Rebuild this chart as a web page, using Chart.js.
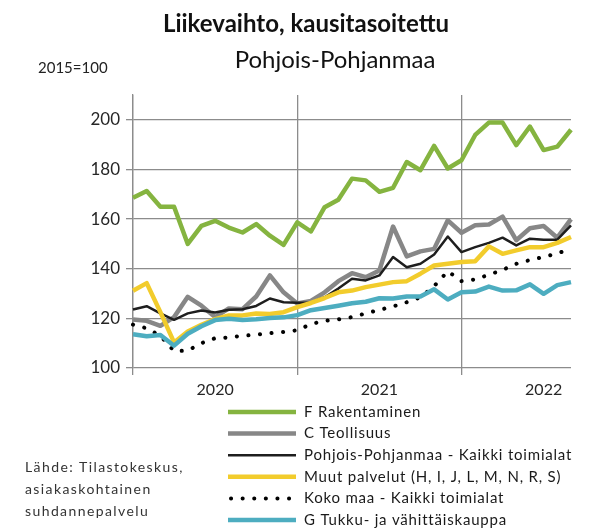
<!DOCTYPE html>
<html>
<head>
<meta charset="utf-8">
<script src="https://cdn.jsdelivr.net/npm/chart.js@4"></script>
<style>
  html, body { margin: 0; padding: 0; background: #fff; }
  #wrap { width: 616px; height: 528px; }
</style>
</head>
<body>
<div id="wrap"><canvas id="lineChart" width="616" height="528"></canvas></div>
<script>
// months Jan 2020 - Sep 2022
const months = [
  '2020-01','2020-02','2020-03','2020-04','2020-05','2020-06','2020-07','2020-08','2020-09','2020-10','2020-11','2020-12',
  '2021-01','2021-02','2021-03','2021-04','2021-05','2021-06','2021-07','2021-08','2021-09','2021-10','2021-11','2021-12',
  '2022-01','2022-02','2022-03','2022-04','2022-05','2022-06','2022-07','2022-08','2022-09'
];
const yearLabels = ['2020', '2021', '2022'];
const yTicks = [100, 120, 140, 160, 180, 200];

const rakentaminen = [168.6, 171.3, 165, 165, 150, 157.3, 159.3, 156.6, 154.6, 158, 153.3, 149.6, 158.7, 155, 164.8, 167.8, 176.3, 175.6, 171, 172.6, 183, 179.7, 189.5, 180.4, 183.7, 193.9, 198.9, 198.9, 189.8, 197.3, 187.8, 189.2, 196];
const teollisuus = [119.5, 119, 117, 120.5, 128.7, 125.1, 120.5, 124, 123.7, 128.8, 137.3, 130.5, 126, 127, 130.5, 135, 138.2, 136.6, 139.3, 157, 145, 147, 148, 159.5, 154.5, 157.5, 157.8, 161, 151.5, 156.3, 157.2, 152.5, 160];
const ppKaikki = [123.6, 124.9, 122, 119.4, 122, 123.2, 122.4, 123.5, 123.7, 125, 128, 126.5, 126.3, 126.3, 128.5, 132, 136, 135.3, 137.3, 144.7, 140.6, 142, 145.7, 153, 146.7, 148.7, 150.4, 152.5, 149.4, 152.1, 151.7, 151.7, 157.5];
const muutPalvelut = [131.1, 134.2, 122.5, 110.3, 114.7, 117.4, 119.7, 121.2, 121.2, 122, 121.8, 122.5, 124.5, 126.2, 128.2, 130.5, 131.2, 132.6, 133.6, 134.6, 135, 138, 141.3, 142, 142.7, 143, 149, 146, 147.4, 148.7, 148.7, 150.4, 152.8];
const kokoMaa = [117.5, 116, 113, 106.8, 107, 110, 112, 112.3, 113, 113.4, 114, 114.5, 115.2, 117.7, 119, 119.6, 120.5, 122, 123.4, 124.8, 126.5, 128.5, 133, 139, 135, 135.7, 137.6, 139.5, 142, 143.5, 144.7, 146.2, 148];
const kauppa = [113.6, 112.8, 113.3, 109, 113.8, 116.8, 119.3, 119.8, 119.3, 119.6, 120.1, 120.4, 121.3, 123.3, 124.2, 125.1, 126.1, 126.7, 128.1, 128, 128.8, 128.8, 131.7, 127.6, 130.5, 130.8, 132.8, 131.2, 131.3, 133.7, 129.9, 133.4, 134.6];

const FONT = "Lato, 'Open Sans', sans-serif";
const GRID = '#8c8c8c';

// titles, unit note, source text and the legend are drawn by hand
const extras = {
  id: 'extras',
  afterDraw(chart) {
    const c = chart.ctx;
    c.save();
    c.fillStyle = '#111';
    c.textAlign = 'center';
    c.textBaseline = 'middle';
    c.font = 'bold 24px ' + FONT;
    c.fillText('Liikevaihto, kausitasoitettu', 306, 24);
    c.font = '24px ' + FONT;
    c.fillText('Pohjois-Pohjanmaa', 335, 60);
    c.textAlign = 'left';
    c.font = '15px ' + FONT;
    c.fillStyle = '#222';
    c.fillText('2015=100', 38, 68);

    c.font = '14px ' + FONT;
    c.fillStyle = '#333';
    c.letterSpacing = '1.4px';
    ['Lähde: Tilastokeskus,', 'asiakaskohtainen', 'suhdannepalvelu'].forEach((t, i) => {
      c.fillText(t, 25, 467 + i * 22);
    });

    c.font = '15px ' + FONT;
    c.letterSpacing = '0.8px';
    chart.data.datasets.forEach((ds, i) => {
      const y = 412 + i * 21.6;
      c.save();
      c.strokeStyle = ds.borderColor;
      c.lineWidth = ds.borderWidth;
      c.lineCap = ds.borderCapStyle || 'butt';
      c.setLineDash(ds.borderDash || []);
      c.beginPath();
      c.moveTo(ds.borderDash ? 231 : 228, y);
      c.lineTo(296, y);
      c.stroke();
      c.restore();
      c.fillStyle = '#1a1a1a';
      c.fillText(ds.label, 304, y);
    });
    c.restore();
  }
};

const ctx = document.getElementById('lineChart').getContext('2d');

const lineChart = new Chart(ctx, {
  type: 'line',
  data: {
    labels: months,
    datasets: [
      { label: 'F Rakentaminen', data: rakentaminen, borderColor: '#85b440', borderWidth: 4.5, order: 6 },
      { label: 'C Teollisuus', data: teollisuus, borderColor: '#878787', borderWidth: 4.5, order: 5 },
      { label: 'Pohjois-Pohjanmaa - Kaikki toimialat', data: ppKaikki, borderColor: '#1e1e1e', borderWidth: 2.5, order: 4 },
      { label: 'Muut palvelut (H, I, J, L, M, N, R, S)', data: muutPalvelut, borderColor: '#f2cc2c', borderWidth: 4.5, order: 3 },
      { label: 'Koko maa - Kaikki toimialat', data: kokoMaa, borderColor: '#000000', borderWidth: 4, borderDash: [0.1, 11.5], borderCapStyle: 'round', order: 2 },
      { label: 'G Tukku- ja vähittäiskauppa', data: kauppa, borderColor: '#4dadc0', borderWidth: 4.5, order: 1 }
    ]
  },
  options: {
    responsive: false,
    devicePixelRatio: 1,
    animation: false,
    layout: { padding: { top: 95, right: 45, left: 0, bottom: 0 } },
    elements: {
      line: { tension: 0, borderJoinStyle: 'round', fill: false },
      point: { radius: 0, hoverRadius: 0 }
    },
    plugins: {
      legend: { display: false },
      tooltip: { enabled: false }
    },
    scales: {
      x: {
        type: 'category',
        offset: false,
        border: { display: false },
        grid: {
          color: (c) => (c.index % 12 === 0 ? GRID : 'rgba(0,0,0,0)'),
          lineWidth: 1.3,
          tickLength: 7
        },
        ticks: {
          autoSkip: false,
          maxRotation: 0,
          padding: 5,
          color: '#262626',
          font: { family: FONT, size: 16 },
          callback: (val, i) => (i % 12 === 6 ? yearLabels[Math.floor(i / 12)] : '')
        },
        afterFit: (s) => { s.height = 160; }
      },
      y: {
        min: 100,
        max: 210,
        border: { display: true, color: GRID, width: 1.3 },
        grid: { color: GRID, lineWidth: 1.3, tickLength: 7 },
        afterBuildTicks: (s) => { s.ticks = yTicks.map(v => ({ value: v })); },
        ticks: {
          padding: 6,
          color: '#262626',
          font: { family: FONT, size: 17 }
        },
        afterFit: (s) => { s.width = 133; }
      }
    }
  },
  plugins: [extras]
});
</script>
</body>
</html>
